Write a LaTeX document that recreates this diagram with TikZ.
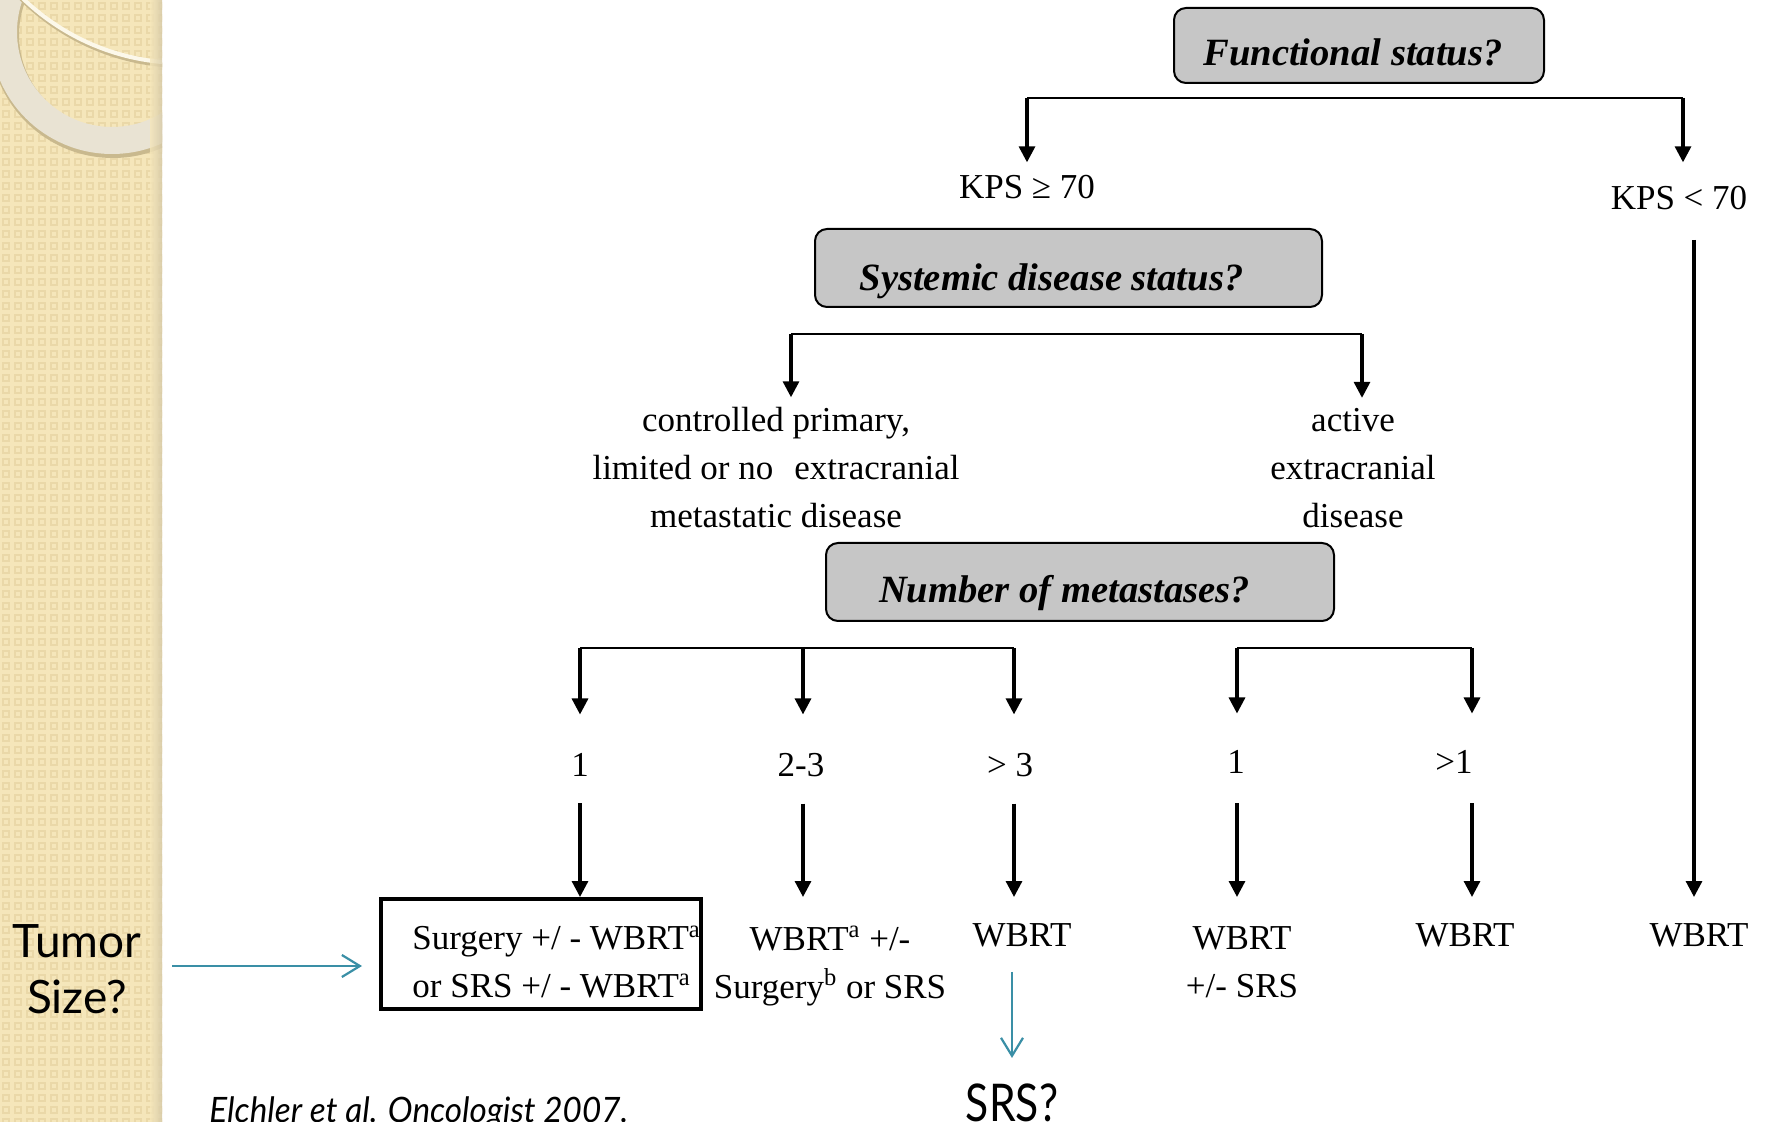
\documentclass[tikz,border=0pt]{standalone}
\usepackage{fontspec}
\setmainfont{Liberation Serif}
\newfontfamily\gillA{Lato}
\newfontfamily\gillB[FakeStretch=0.95]{Lato}
\newfontfamily\gillC[FakeStretch=0.82]{Lato}
\usetikzlibrary{arrows.meta}
\definecolor{boxgray}{HTML}{C6C6C6}
\definecolor{tealc}{HTML}{3A8FA6}
\definecolor{pbase}{HTML}{F5E6BA}
\definecolor{pdark}{HTML}{EAD8A8}
\definecolor{pshadow}{HTML}{D5C9A8}
\definecolor{ringc}{HTML}{E9E3D3}
\definecolor{ringedge}{HTML}{C9B98E}
\tikzset{
  lbl/.style={font=\fontsize{17.5}{24}\selectfont, align=center, inner sep=0pt},
  qbox/.style={draw, line width=1pt, fill=boxgray, rounded corners=6pt, inner sep=0pt,
    text depth=0pt, font=\fontsize{19.3}{23}\selectfont\bfseries\itshape},
  hline/.style={line width=1pt},
  arr/.style={line width=1.6pt, -{Triangle[length=8pt,width=8pt]}},
  tealarr/.style={draw=tealc, line width=1.1pt, -{Straight Barb[length=9pt,width=11pt,line width=1.1pt]}},
  sanslbl/.style={font=\gillA\fontsize{23}{28}\selectfont, align=center, inner sep=0pt}
}
\begin{document}
\begin{tikzpicture}[x=0.5pt, y=-0.5pt]
\useasboundingbox (0,0) rectangle (1767,1122);
\fill[white] (0,0) rectangle (1767,1122);
% left decorative panel
\begin{scope}
  \clip (0,0) rectangle (162,1122);
  \fill[pbase] (0,0) rectangle (162,1122);
  \foreach \i in {0,...,13} {
    \foreach \j in {0,...,93} {
      \fill[pdark] (\i*12+2, \j*12+2) rectangle ++(8,8);
      \fill[pbase] (\i*12+4, \j*12+4) rectangle ++(4,4);
    }
  }
  \fill[ringedge, even odd rule] (113,35) circle[radius=123] (113,35) circle[radius=94];
  \fill[ringc, even odd rule] (112,32) circle[radius=122] (112,32) circle[radius=95];
  \draw[ringedge, line width=2pt] (184,-165) circle[radius=231];
  \draw[white!70!pbase, line width=2pt] (183,-168) circle[radius=231];
  \shade[left color=pbase, right color=pshadow, opacity=0.8] (150,0) rectangle (162,1122);
\end{scope}

% question boxes
\node[qbox, minimum width=185pt, minimum height=37.5pt, text height=20pt] (fs) at (1359,45.5) {Functional status?\hspace*{6pt}};
\node[qbox, minimum width=253.5pt, minimum height=39pt, text height=22.5pt] (sds) at (1068.5,268) {Systemic disease status?\hspace*{17pt}};
\node[qbox, minimum width=254pt, minimum height=39pt, text height=20.5pt] (nm) at (1080,582) {Number of metastases?\hspace*{15.5pt}};

% labels
\node[lbl, anchor=base] (kps1) at (1027,199) {KPS ≥ 70};
\node[lbl, anchor=base] (kps2) at (1679,210) {KPS < 70};
\node[lbl] (ctrl) at (776,468) {controlled primary,\\limited or no\hspace{0.6em}extracranial\\metastatic disease};
\node[lbl] (act) at (1353,468) {active\\extracranial\\disease};
\node[lbl, anchor=base] (n1) at (580,776) {1};
\node[lbl, anchor=base] (n23) at (801,776) {2-3};
\node[lbl, anchor=base] (n3) at (1010,776) {> 3};
\node[lbl, anchor=base] (m1) at (1236,773) {1};
\node[lbl, anchor=base] (m2) at (1454,773) {>1};

% outcomes
\node[draw, line width=2pt, minimum width=160pt, minimum height=55pt, inner sep=0pt] (r1) at (541,954) {};
\node[lbl, align=left, anchor=west] (r1t) at (412,962) {Surgery +/ - WBRT\textsuperscript{a}\\or SRS +/ - WBRT\textsuperscript{a}};
\node[lbl] (r2) at (830,966) {WBRT\textsuperscript{a} +/-\\Surgery\textsuperscript{b} or SRS};
\node[lbl, anchor=base] (r3) at (1022,946) {WBRT};
\node[lbl] (r4) at (1242,962) {WBRT\\+/- SRS};
\node[lbl, anchor=base] (r5) at (1465,946) {WBRT};
\node[lbl, anchor=base] (r6) at (1699,946) {WBRT};

% side texts
\node[sanslbl] (tumor) at (77,969) {Tumor\\Size?};
\node[sanslbl, font=\gillC\fontsize{26}{30}\selectfont, anchor=base] (srsq) at (1012,1121) {SRS?};
\node[inner sep=0pt, anchor=base west, font=\gillB\itshape\fontsize{17.5}{21}\selectfont] (cite) at (209,1122) {Elchler et al. Oncologist 2007.};

% branch coordinates
\coordinate (ft1) at (1027,98);
\coordinate (ft2) at (1683,98);
\coordinate (st1) at (791,334);
\coordinate (st2) at (1362,334);
\coordinate (nt1) at (580,648);
\coordinate (nt2) at (803,648);
\coordinate (nt3) at (1014,648);
\coordinate (nt4) at (1237,648);
\coordinate (nt5) at (1472,648);
\coordinate (v6) at (1694,240);
\coordinate (ta) at (172,966);

% functional status branches
\draw[hline] (ft1) -- (ft2);
\draw[arr, shorten >=6.5pt] (ft1) -- (ft1 |- kps1.north);
\draw[arr, shorten >=12pt] (ft2) -- (ft2 |- kps2.north);
\draw[arr] (v6) -- (v6 |- r1.north);

% systemic branches
\draw[hline] (st1) -- (st2);
\draw[arr, shorten >=5pt] (st1) -- (st1 |- ctrl.north);
\draw[arr, shorten >=5pt] (st2) -- (st2 |- act.north);

% number branches
\draw[hline] (nt1) -- (nt3);
\draw[hline] (nt4) -- (nt5);
\draw[arr, shorten >=19pt] (nt1) -- (nt1 |- n1.north);
\draw[arr, shorten >=19pt] (nt2) -- (nt2 |- n23.north);
\draw[arr, shorten >=19pt] (nt3) -- (nt3 |- n3.north);
\draw[arr, shorten >=18pt] (nt4) -- (nt4 |- m1.north);
\draw[arr, shorten >=18pt] (nt5) -- (nt5 |- m2.north);

% second row arrows
\draw[arr, shorten <=13.5pt] (n1.south) -- (n1.south |- r1.north);
\draw[arr, shorten <=13.5pt] (n23.south -| nt2) -- (nt2 |- r1.north);
\draw[arr, shorten <=13.5pt] (n3.south -| nt3) -- (nt3 |- r1.north);
\draw[arr, shorten <=15pt] (m1.south -| nt4) -- (nt4 |- r1.north);
\draw[arr, shorten <=15pt] (m2.south -| nt5) -- (nt5 |- r1.north);

% teal arrows
\draw[tealarr, shorten >=8.5pt] (ta) -- (ta -| r1.west);
\draw[tealarr, shorten <=12.5pt, shorten >=12.5pt] (srsq.north |- r3.south) -- (srsq.north);
\end{tikzpicture}
\end{document}
